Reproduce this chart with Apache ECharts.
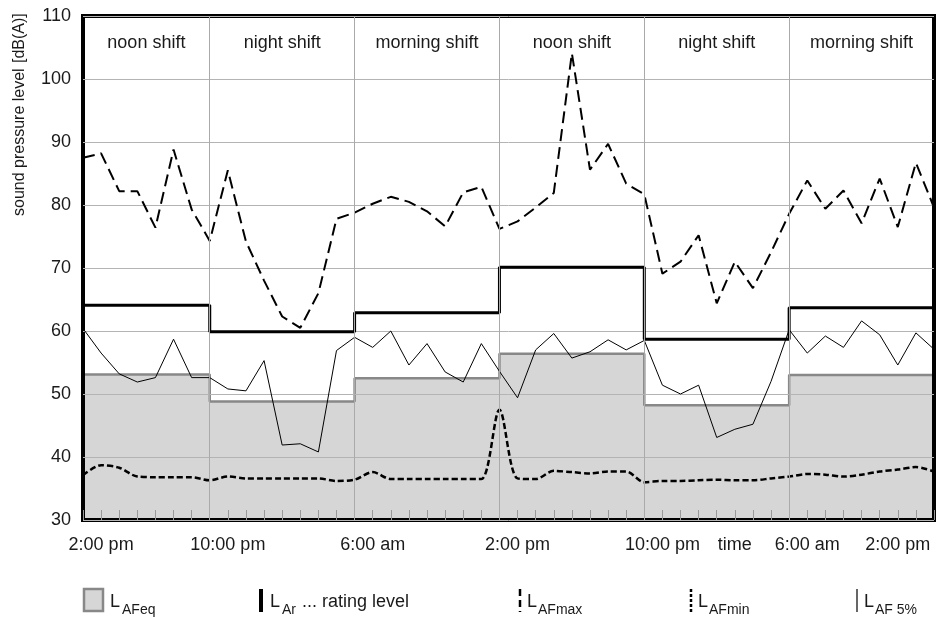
<!DOCTYPE html>
<html>
<head>
<meta charset="utf-8">
<title>sound pressure level</title>
<script src="https://cdn.jsdelivr.net/npm/echarts@6/dist/echarts.min.js"></script>
<style>
html, body {margin:0; padding:0; background:#fff;}
#chart {width:939px; height:617px;}
</style>
</head>
<body>
<div id="chart"></div>
<script>
// hourly readings in dB(A), one per hour from the left edge of the plot
var afMax = [87.5, 88.2, 82.2, 82.2, 76.4, 88.8, 79.3, 74.3, 85.5, 74.2,
             68.0, 62.3, 60.5, 66.0, 77.8, 78.8, 80.2, 81.3, 80.5, 79.0,
             76.6, 82.0, 82.9, 76.2, 77.4, 79.6, 81.9, 104.1, 85.6, 89.7,
             83.4, 81.7, 69.1, 71.0, 75.2, 64.4, 71.0, 66.8, 72.5, 78.6,
             83.9, 79.4, 82.3, 77.1, 84.2, 76.5, 86.7, 79.6];
var af5 = [60.4, 56.5, 53.2, 51.9, 52.6, 58.7, 52.6, 52.6, 50.8, 50.5,
           55.3, 41.9, 42.1, 40.8, 56.9, 59.0, 57.4, 60.0, 54.6, 58.0,
           53.5, 51.9, 58.0, 53.6, 49.4, 57.0, 59.6, 55.7, 56.7, 58.6,
           57.0, 58.5, 51.4, 50.0, 51.4, 43.1, 44.4, 45.2, 52.0, 60.2,
           56.5, 59.2, 57.4, 61.6, 59.4, 54.6, 59.7, 57.1];
var afMin = [37.1, 38.7, 38.3, 36.9, 36.8, 36.8, 36.8, 36.3, 36.9, 36.6,
             36.6, 36.6, 36.6, 36.6, 36.2, 36.4, 37.6, 36.5, 36.5, 36.5,
             36.5, 36.5, 36.5, 47.5, 36.6, 36.5, 37.8, 37.6, 37.4, 37.7,
             37.7, 36.0, 36.2, 36.2, 36.3, 36.4, 36.3, 36.3, 36.6, 36.9,
             37.3, 37.2, 36.9, 37.2, 37.7, 38.0, 38.4, 37.7];

// shifts (hour marks) with their levels
var shiftBounds = [0, 7, 15, 23, 31, 39, 47];
var shiftNames = ['noon shift', 'night shift', 'morning shift', 'noon shift', 'night shift', 'morning shift'];
var leqShift = [53.1, 48.8, 52.5, 56.4, 48.2, 53.0];
var ratingShift = [64.1, 59.9, 62.9, 70.1, 58.7, 63.7];

// x axis texts
var tickHours = [1, 8, 16, 24, 32, 36, 40, 45];
var tickLabels = ['2:00 pm', '10:00 pm', '6:00 am', '2:00 pm', '10:00 pm', 'time', '6:00 am', '2:00 pm'];

var FONT = '"Liberation Sans", Arial, sans-serif';
var INK = '#1a1a1a';

function hourly(vals) {
    return vals.map(function (v, i) { return [i, v]; });
}

function steps(vals) {
    var out = vals.map(function (v, i) { return [shiftBounds[i], v]; });
    out.push([shiftBounds[shiftBounds.length - 1], vals[vals.length - 1]]);
    return out;
}

// legend pieces
function legIcon(x, lineWidth, dash) {
    return {
        type: 'line', silent: true,
        shape: {x1: x, y1: 589, x2: x, y2: 612},
        style: {stroke: '#000', lineWidth: lineWidth, lineDash: dash || null}
    };
}
function legText(x, y, text, size) {
    return {
        type: 'text', silent: true, x: x, y: y,
        style: {text: text, fontSize: size, fontFamily: FONT, fill: INK, verticalAlign: 'middle'}
    };
}

var legend = [
    {type: 'rect', silent: true, shape: {x: 84, y: 589, width: 19, height: 22},
        style: {fill: '#d6d6d6', stroke: '#888', lineWidth: 2.5}},
    legText(110, 602, 'L', 18), legText(122, 610, 'AFeq', 14),
    legIcon(261, 4),
    legText(270, 602, 'L', 18), legText(282, 610, 'Ar', 14), legText(302, 602, '... rating level', 18),
    legIcon(520, 2.5, [7, 4]),
    legText(527, 602, 'L', 18), legText(538, 610, 'AFmax', 14),
    legIcon(691, 2.5, [3, 2]),
    legText(698, 602, 'L', 18), legText(709, 610, 'AFmin', 14),
    legIcon(857, 1.2),
    legText(864, 602, 'L', 18), legText(875, 610, 'AF 5%', 14),
    {type: 'text', silent: true, x: 20, y: 216, rotation: Math.PI / 2,
        style: {text: 'sound pressure level', fontSize: 16, fontFamily: FONT, fill: INK, verticalAlign: 'middle'}},
    {type: 'text', silent: true, x: 20, y: 63, rotation: Math.PI / 2,
        style: {text: '[dB(A)]', fontSize: 16, fontFamily: FONT, fill: INK, verticalAlign: 'middle'}}
];

var chart = echarts.init(document.getElementById('chart'));

var option = {
    animation: false,
    grid: {left: 83, right: 5, top: 16, bottom: 97, show: true, borderColor: '#000', borderWidth: 4},
    xAxis: {
        type: 'value', min: 0, max: 47, interval: 1,
        axisLine: {show: false},
        splitLine: {show: false},
        axisTick: {show: true, inside: true, length: 10, lineStyle: {color: '#999', width: 1}},
        axisLabel: {
            margin: 16, fontSize: 18, fontFamily: FONT, color: INK,
            formatter: function (v) {
                var k = tickHours.indexOf(v);
                return k < 0 ? '' : tickLabels[k];
            }
        }
    },
    yAxis: {
        type: 'value', min: 30, max: 110, interval: 10,
        axisLine: {show: false},
        axisTick: {show: false},
        axisLabel: {margin: 12, fontSize: 18, fontFamily: FONT, color: INK},
        splitLine: {lineStyle: {color: '#b4b4b4', width: 1}}
    },
    graphic: legend,
    series: [
        {
            name: 'LAFeq', type: 'line', z: -1, step: 'end', symbol: 'none',
            data: steps(leqShift),
            lineStyle: {color: '#888', width: 2.5},
            areaStyle: {color: '#d6d6d6', opacity: 1, origin: 'start'},
            markLine: {
                silent: true, symbol: 'none', label: {show: false},
                lineStyle: {color: '#aaa', type: 'solid', width: 1},
                data: shiftBounds.slice(1, -1).map(function (h) { return {xAxis: h}; })
            }
        },
        {
            name: 'LAF 5%', type: 'line', symbol: 'none',
            data: hourly(af5),
            lineStyle: {color: '#000', width: 1}
        },
        {
            name: 'LAFmin', type: 'line', symbol: 'none', smooth: 0.3,
            data: hourly(afMin),
            lineStyle: {color: '#000', width: 2.5, type: [6, 3]}
        },
        {
            name: 'LAFmax', type: 'line', symbol: 'none',
            data: hourly(afMax),
            lineStyle: {color: '#000', width: 2, type: [12, 6]}
        },
        {
            name: 'LAr', type: 'line', step: 'end', symbol: 'none',
            data: steps(ratingShift),
            lineStyle: {color: '#000', width: 3},
            markArea: {
                silent: true,
                itemStyle: {color: 'rgba(0,0,0,0)'},
                label: {position: 'insideTop', distance: 18, fontSize: 18, fontFamily: FONT, color: INK},
                data: shiftNames.map(function (n, i) {
                    return [{name: n, xAxis: shiftBounds[i]}, {xAxis: shiftBounds[i + 1]}];
                })
            }
        }
    ]
};

chart.setOption(option);
window.addEventListener('resize', function () {
    chart.resize();
});
</script>
</body>
</html>
